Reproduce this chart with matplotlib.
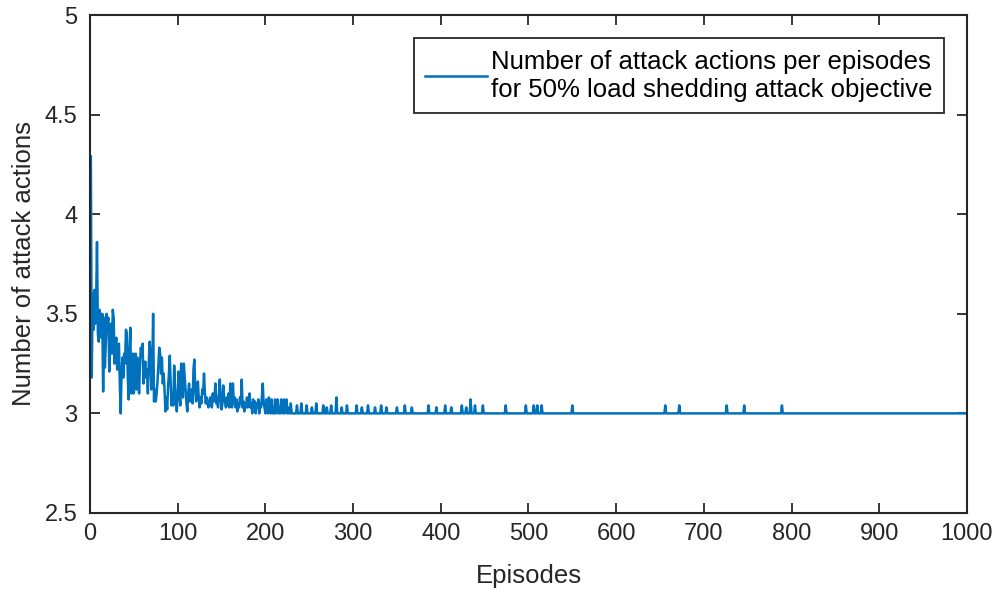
import numpy as np
import matplotlib.pyplot as plt

plt.rcParams['font.family'] = ['Liberation Sans', 'DejaVu Sans']

# average number of attack actions, episodes 1-228 (noisy learning phase)
early_actions = [
    4.29, 3.18, 3.60, 3.42, 3.62, 3.45, 3.55, 3.86, 3.40, 3.36,
    3.52, 3.45, 3.38, 3.50, 3.11, 3.48, 3.23, 3.35, 3.50, 3.46,
    3.48, 3.21, 3.38, 3.45, 3.30, 3.52, 3.48, 3.25, 3.34, 3.38,
    3.22, 3.30, 3.35, 3.15, 3.00, 3.20, 3.28, 3.18, 3.30, 3.25,
    3.42, 3.40, 3.20, 3.07, 3.30, 3.43, 3.10, 3.25, 3.30, 3.10,
    3.22, 3.30, 3.12, 3.28, 3.18, 3.10, 3.25, 3.33, 3.30, 3.35,
    3.15, 3.21, 3.26, 3.18, 3.22, 3.10, 3.25, 3.36, 3.30, 3.12,
    3.21, 3.50, 3.06, 3.12, 3.06, 3.10, 3.16, 3.25, 3.33, 3.30,
    3.20, 3.28, 3.15, 3.20, 3.12, 3.01, 3.08, 3.02, 3.13, 3.20,
    3.29, 3.15, 3.04, 3.10, 3.04, 3.24, 3.12, 3.08, 3.01, 3.10,
    3.21, 3.10, 3.04, 3.25, 3.15, 3.08, 3.25, 3.18, 3.12, 3.05,
    3.01, 3.10, 3.15, 3.06, 3.08, 3.12, 3.05, 3.22, 3.27, 3.12,
    3.06, 3.10, 3.16, 3.08, 3.03, 3.08, 3.05, 3.12, 3.10, 3.20,
    3.10, 3.05, 3.08, 3.05, 3.03, 3.06, 3.08, 3.05, 3.03, 3.10,
    3.06, 3.08, 3.15, 3.05, 3.08, 3.03, 3.10, 3.17, 3.08, 3.02,
    3.05, 3.14, 3.08, 3.06, 3.03, 3.08, 3.04, 3.10, 3.03, 3.15,
    3.06, 3.03, 3.15, 3.05, 3.08, 3.03, 3.07, 3.01, 3.05, 3.03,
    3.08, 3.05, 3.17, 3.03, 3.06, 3.01, 3.05, 3.03, 3.08, 3.03,
    3.06, 3.10, 3.03, 3.05, 3.00, 3.07, 3.03, 3.06, 3.00, 3.05,
    3.03, 3.07, 3.00, 3.05, 3.03, 3.08, 3.15, 3.05, 3.03, 3.00,
    3.07, 3.03, 3.00, 3.08, 3.03, 3.00, 3.07, 3.00, 3.03, 3.00,
    3.07, 3.00, 3.03, 3.07, 3.00, 3.03, 3.00, 3.07, 3.03, 3.00,
    3.07, 3.00, 3.03, 3.07, 3.00, 3.00, 3.03, 3.00,
]

# after convergence the agent uses 3 actions, with occasional extra ones
settled_value = 3.0
spike_episodes = [229, 236, 241, 247, 253, 258, 266, 270, 275, 281,
                  287, 293, 304, 310, 317, 325, 332, 338, 350, 359,
                  367, 386, 395, 405, 412, 424, 429, 434, 439, 448,
                  474, 497, 506, 510, 515, 550, 656, 672, 726, 746, 789]
spike_values = [3.05, 3.04, 3.05, 3.04, 3.03, 3.05, 3.04, 3.03, 3.04, 3.08,
                3.03, 3.04, 3.04, 3.03, 3.04, 3.03, 3.04, 3.03, 3.03, 3.04,
                3.03, 3.04, 3.03, 3.04, 3.03, 3.04, 3.03, 3.07, 3.04, 3.04,
                3.04, 3.04, 3.04, 3.04, 3.04, 3.04, 3.04, 3.04, 3.04, 3.04, 3.04]

n_episodes = 1000
episodes = np.arange(1, n_episodes + 1)
actions = np.full(n_episodes, settled_value)
actions[:len(early_actions)] = early_actions
actions[np.array(spike_episodes) - 1] = spike_values

fig = plt.figure(figsize=(10.01, 5.96), dpi=100)
ax = fig.add_axes([0.0899, 0.1393, 0.8761, 0.8355])

ax.plot(episodes, actions, color='#0072BD', lw=1.8,
        label='Number of attack actions per episodes\nfor 50% load shedding attack objective')

ax.set_xlim(0, 1000)
ax.set_ylim(2.5, 5)
ax.set_xticks(np.arange(0, 1001, 100))
ax.set_yticks([2.5, 3, 3.5, 4, 4.5, 5])
ax.set_yticklabels(['2.5', '3', '3.5', '4', '4.5', '5'])
ax.tick_params(direction='in', top=True, right=True, length=7, width=1.3,
               labelsize=17, colors='#262626')
ax.tick_params(axis='x', pad=7)
ax.tick_params(axis='y', pad=9)
for s in ax.spines.values():
    s.set_linewidth(1.5)
    s.set_color('#262626')

ax.set_xlabel('Episodes', fontsize=18.5, color='#262626', labelpad=14)
ax.set_ylabel('Number of attack actions', fontsize=18.5, color='#262626', labelpad=6)

leg = ax.legend(loc='upper right', fontsize=18.5, fancybox=False, framealpha=1,
                edgecolor='#262626', borderaxespad=0.9, handlelength=2.4,
                handletextpad=0.15, borderpad=0.45, labelspacing=0.2)
leg.get_frame().set_linewidth(1.3)

fig.savefig('out.png', dpi=100)
